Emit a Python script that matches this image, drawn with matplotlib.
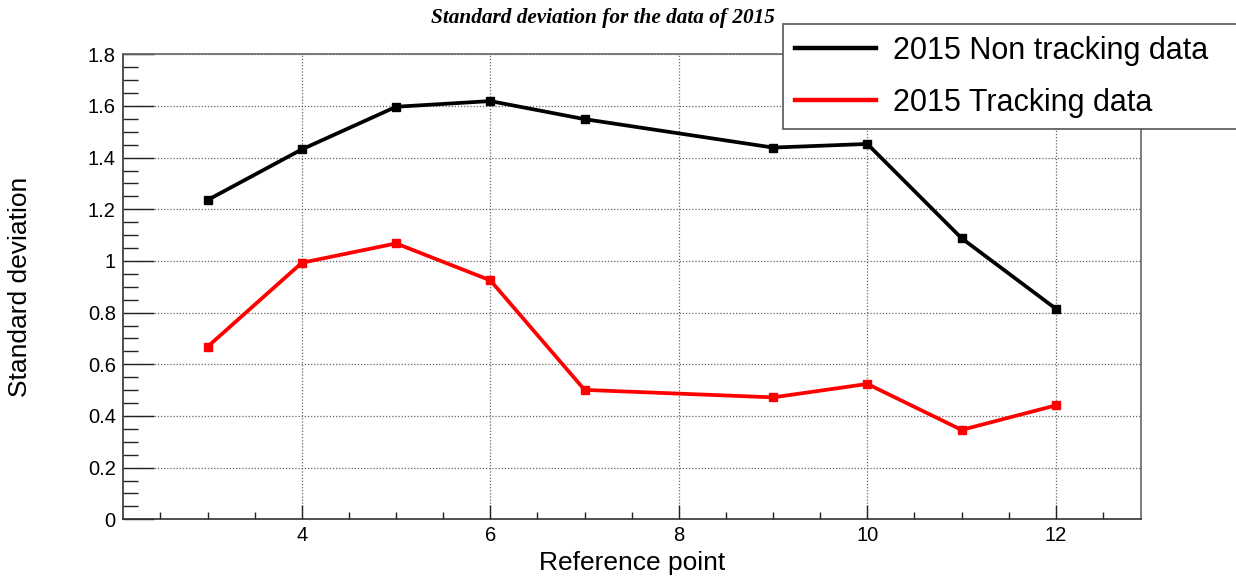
import matplotlib
matplotlib.use('Agg')
import matplotlib.pyplot as plt
from matplotlib.ticker import MultipleLocator, FuncFormatter

ref_points = [3, 4, 5, 6, 7, 9, 10, 11, 12]
non_tracking = [1.236, 1.432, 1.597, 1.619, 1.549, 1.439, 1.453, 1.088, 0.815]
tracking = [0.668, 0.993, 1.068, 0.925, 0.501, 0.472, 0.524, 0.346, 0.441]
series_labels = ['2015 Non tracking data', '2015 Tracking data']

plt.rcParams['font.family'] = ['Liberation Sans', 'DejaVu Sans']

fig = plt.figure(figsize=(12.36, 5.81), dpi=100)
ax = fig.add_axes([0.0993, 0.1062, 0.8236, 0.8003])

l1, = ax.plot(ref_points, non_tracking, color='black', lw=2.7, marker='s', ms=5.5,
              label=series_labels[0])
l2, = ax.plot(ref_points, tracking, color='#ff0000', lw=2.7, marker='s', ms=5.5,
              label=series_labels[1])

ax.set_xlim(2.1, 12.9)
ax.set_ylim(0, 1.8)

ax.xaxis.set_major_locator(MultipleLocator(2))
ax.xaxis.set_minor_locator(MultipleLocator(0.5))
ax.yaxis.set_major_locator(MultipleLocator(0.2))
ax.yaxis.set_minor_locator(MultipleLocator(0.05))
ax.yaxis.set_major_formatter(FuncFormatter(lambda v, p: f'{v:g}'))
ax.xaxis.set_major_formatter(FuncFormatter(lambda v, p: f'{v:g}'))

ax.tick_params(axis='both', which='both', direction='in', top=False, right=False,
               labelsize=14.5, color='#222222')
ax.tick_params(axis='y', which='major', length=22, width=1, pad=5)
ax.tick_params(axis='y', which='minor', length=11, width=1)
ax.tick_params(axis='x', which='major', length=10, width=1, pad=5)
ax.tick_params(axis='x', which='minor', length=5, width=1)

ax.grid(True, which='major', linestyle=(0, (1, 1.5)), color='#666666', lw=0.9)
ax.set_axisbelow(True)
for side in ['left', 'bottom']:
    ax.spines[side].set_color('#333333')
    ax.spines[side].set_linewidth(1.2)
for side in ['top', 'right']:
    ax.spines[side].set_color('#666666')
    ax.spines[side].set_linewidth(1.2)

ax.set_xlabel('Reference point', fontsize=19, va='center')
ax.xaxis.set_label_coords(0.5, -0.094)
ax.set_ylabel('Standard deviation', fontsize=19, va='center')
ax.yaxis.set_label_coords(-0.101, 0.5)

fig.text(0.488, 0.969, 'Standard deviation for the data of 2015',
         family='Liberation Serif', style='italic', weight='bold', fontsize=15.3,
         ha='center', va='center')

leg = ax.legend(handles=[l1, l2], loc='upper left', mode='expand',
                bbox_to_anchor=(783.3 / 1236, (581 - 127.7) / 581, (1260 - 783.3) / 1236,
                                (127.7 - 24.3) / 581),
                bbox_transform=fig.transFigure, fontsize=22, fancybox=False,
                edgecolor='#555555', framealpha=1, handlelength=2.65, handletextpad=0.55,
                labelspacing=0.71, borderpad=0.38, borderaxespad=0)
leg.get_frame().set_linewidth(1.2)
for h in leg.legend_handles:
    h.set_marker('')
    h.set_linewidth(3.2)

fig.savefig('out.png', dpi=100)
